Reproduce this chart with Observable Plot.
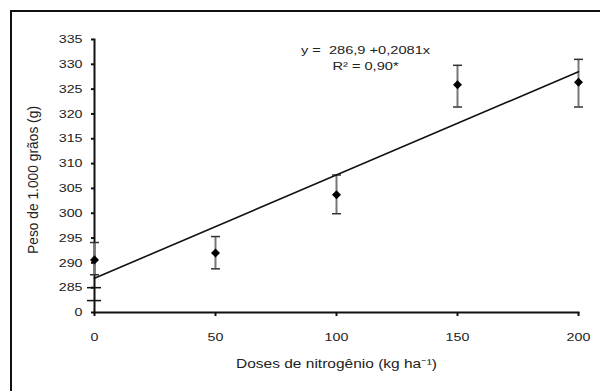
<!DOCTYPE html>
<html>
<head>
<meta charset="utf-8">
<script src="https://cdn.jsdelivr.net/npm/d3@7"></script>
<script src="https://cdn.jsdelivr.net/npm/@observablehq/plot@0.6"></script>
<style>
  html, body { margin: 0; padding: 0; background: #fff; overflow: hidden; }
  #wrap { position: relative; width: 600px; height: 391px; }
  #wrap svg { position: absolute; left: 0; top: 0; }
  #border { position: absolute; left: 10px; top: 10px; width: 700px; height: 500px;
            border-left: 2px solid #111; border-top: 2px solid #111; pointer-events: none; }
</style>
</head>
<body>
<div id="wrap"><div id="border"></div></div>
<script>
// ---- data ----
const doses = [0, 50, 100, 150, 200];
const peso = [290.6, 292.0, 303.7, 325.9, 326.4];
const erroInf = [287.6, 288.8, 299.9, 321.4, 321.4];
const erroSup = [294.1, 295.3, 307.7, 329.8, 331.0];
const fitX = [0, 200];
const fitY = [286.9, 328.5];
const yTicks = [280, 285, 290, 295, 300, 305, 310, 315, 320, 325, 330, 335];
const yTickLabels = ["0", "285", "290", "295", "300", "305", "310", "315", "320", "325", "330", "335"];
const xTicks = [0, 50, 100, 150, 200];
const breakMarks = [285, 282.4];
const equation = ["y =  286,9 +0,2081x", "R\u00B2 = 0,90*"];
const xLabel = "Doses de nitrogênio (kg ha\u207B\u00B9)";
const yLabel = "Peso de 1.000 grãos (g)";

const table = doses.map((d, i) => ({dose: d, peso: peso[i], lo: erroInf[i], hi: erroSup[i]}));
const fit = fitX.map((d, i) => ({dose: d, y: fitY[i]}));
const labelOf = new Map(yTicks.map((t, i) => [t, yTickLabels[i]]));

const capSymbol = {
  draw(ctx, size) {
    const r = Math.sqrt(size / Math.PI);
    ctx.moveTo(-r, 0);
    ctx.lineTo(r, 0);
  }
};

const font = "'Liberation Sans', Arial, sans-serif";

const chart = Plot.plot({
  width: 600,
  height: 391,
  marginLeft: 94,
  marginRight: 22,
  marginTop: 39,
  marginBottom: 79,
  style: {fontFamily: font, fontSize: "11.5px", color: "#222", background: "transparent"},
  x: {domain: [0, 200]},
  y: {domain: [280, 335]},
  marks: [
    Plot.axisY(yTicks, {tickSize: 3, tickPadding: 9, tickFormat: d => labelOf.get(d), label: null, strokeWidth: 2, stroke: "#111", fontSize: 11.5}),
    Plot.axisY(breakMarks, {tickSize: 14, dx: 7, tickFormat: () => "", label: null, strokeWidth: 1.5, stroke: "#111"}),
    Plot.axisX(xTicks, {tickSize: 4, tickPadding: 16, label: null, strokeWidth: 2, stroke: "#111", fontSize: 11.5}),
    Plot.frame({anchor: "left", strokeWidth: 2, stroke: "#111"}),
    Plot.frame({anchor: "bottom", strokeWidth: 2, stroke: "#111"}),
    Plot.ruleX(table, {x: "dose", y1: "lo", y2: "hi", stroke: "#777", strokeWidth: 2}),
    Plot.dot(table, {x: "dose", y: "lo", symbol: capSymbol, r: 4.5, fill: "none", stroke: "#333", strokeWidth: 1.5}),
    Plot.dot(table, {x: "dose", y: "hi", symbol: capSymbol, r: 4.5, fill: "none", stroke: "#333", strokeWidth: 1.5}),
    Plot.line(fit, {x: "dose", y: "y", stroke: "#111", strokeWidth: 1.6}),
    Plot.dot(table, {x: "dose", y: "peso", symbol: "square", rotate: 45, r: 3.6, fill: "#000", stroke: "none"}),
    Plot.text([equation[0]], {frameAnchor: "top", dx: 29, dy: 6, fontSize: 11.8, fill: "#222"}),
    Plot.text([equation[1]], {frameAnchor: "top", dx: 29, dy: 22, fontSize: 11.8, fill: "#222"}),
    Plot.text([xLabel], {frameAnchor: "bottom", dy: 55, fontSize: 12.5, fill: "#222"}),
    Plot.text([yLabel], {frameAnchor: "left", textAnchor: "middle", dx: -61, dy: 4, rotate: -90, fontSize: 12, fill: "#222"})
  ]
});

// the reference's lettering is stretched horizontally
d3.select(chart).selectAll("text").each(function() {
  const t = this.getAttribute("transform") || "";
  if (this.textContent === yLabel) {
    this.setAttribute("transform", t + " scale(1.15,1.2)");
  } else {
    this.setAttribute("transform", t + " scale(1.24,1)");
  }
});

document.getElementById("wrap").prepend(chart);
</script>
</body>
</html>
